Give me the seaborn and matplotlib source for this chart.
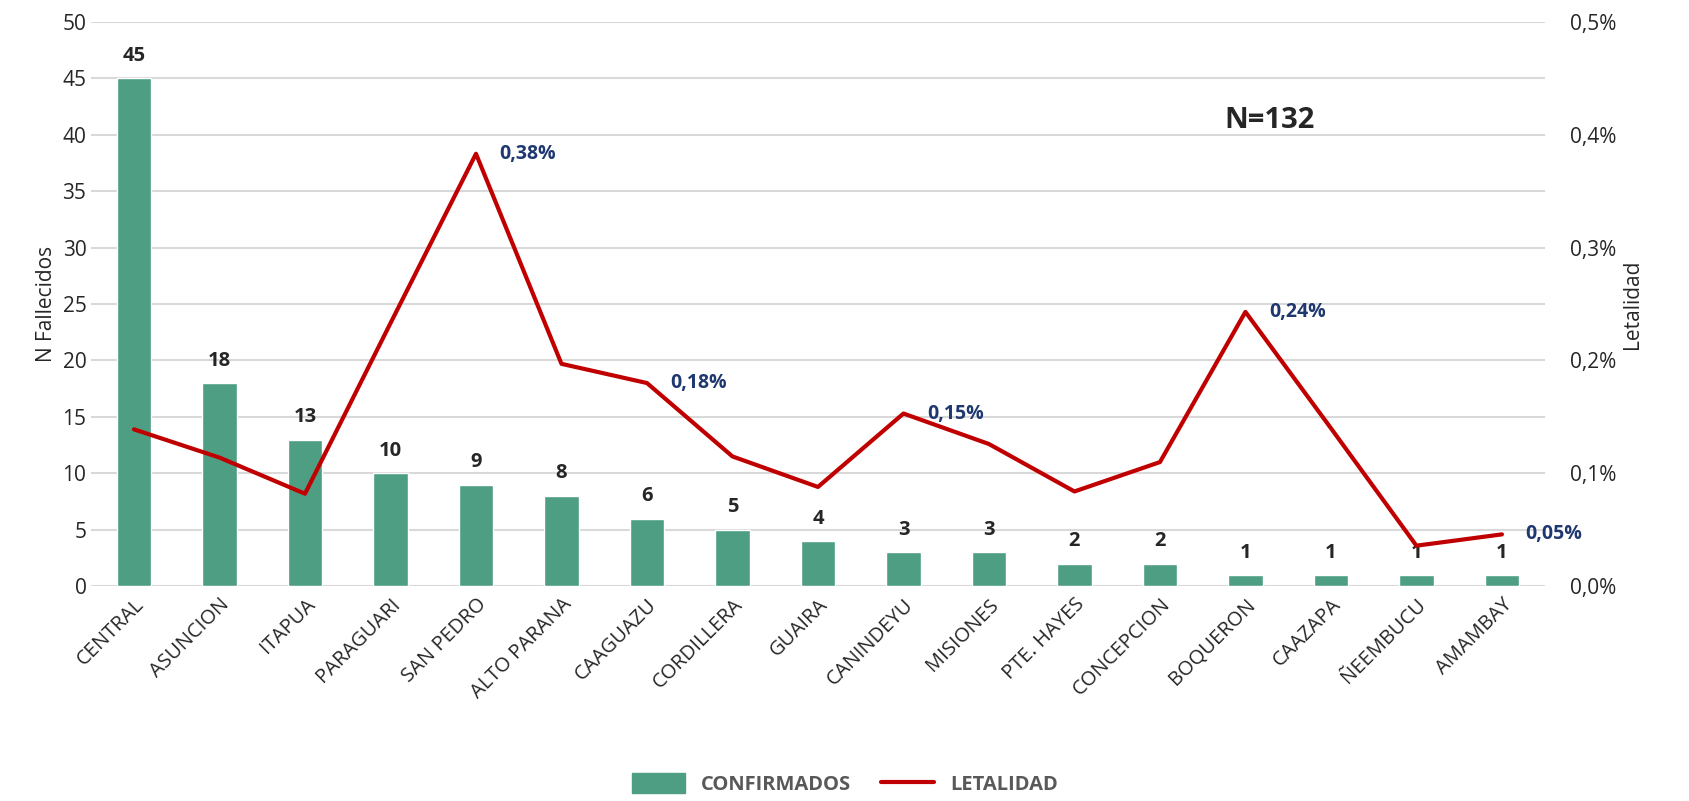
import numpy as np
import matplotlib.pyplot as plt
import seaborn as sns
from matplotlib.ticker import FuncFormatter
from matplotlib.patches import Patch
from matplotlib.lines import Line2D


# Datos por departamento
departamentos = ["CENTRAL", "ASUNCION", "ITAPUA", "PARAGUARI", "SAN PEDRO",
                 "ALTO PARANA", "CAAGUAZU", "CORDILLERA", "GUAIRA", "CANINDEYU",
                 "MISIONES", "PTE. HAYES", "CONCEPCION", "BOQUERON", "CAAZAPA",
                 "ÑEEMBUCU", "AMAMBAY"]
confirmados = [45, 18, 13, 10, 9, 8, 6, 5, 4, 3, 3, 2, 2, 1, 1, 1, 1]
letalidad = [0.139, 0.114, 0.082, 0.233, 0.383, 0.197, 0.180, 0.115, 0.088,
             0.153, 0.126, 0.084, 0.110, 0.243, 0.140, 0.036, 0.046]
etiquetas_letalidad = {"SAN PEDRO": "0,38%", "CAAGUAZU": "0,18%",
                       "CANINDEYU": "0,15%", "BOQUERON": "0,24%",
                       "AMAMBAY": "0,05%"}

VERDE = "#4E9E84"
ROJO = "#C00000"
AZUL = "#1F3870"


def graficar():
    sns.set_style("white")
    plt.rcParams['font.family'] = ['Open Sans', 'DejaVu Sans']

    fig, ax = plt.subplots(figsize=(16.9, 8.01), dpi=100)
    fig.subplots_adjust(left=0.054, right=0.914, top=0.973, bottom=0.268)

    sns.barplot(x=departamentos, y=confirmados, color=VERDE, width=0.4,
                saturation=1, ax=ax, zorder=3)
    for i, v in enumerate(confirmados):
        ax.annotate(str(v), (i, v), xytext=(0, 9), textcoords="offset points",
                    ha="center", va="bottom", fontsize=14.5, fontweight="bold")

    ax.set_ylim(0, 50)
    ax.set_yticks(range(0, 51, 5))
    ax.set_ylabel("N Fallecidos", fontsize=15)
    ax.set_xlabel("")
    ax.tick_params(axis="y", labelsize=15, length=0)
    ax.tick_params(axis="x", labelsize=14.5, length=0, pad=6)
    plt.setp(ax.get_xticklabels(), rotation=45, ha="right", rotation_mode="anchor")
    ax.grid(axis="y", color="#D9D9D9", linewidth=1.5, zorder=0)
    ax.set_axisbelow(True)
    sns.despine(ax=ax, left=True, bottom=True)

    ax2 = ax.twinx()
    x = np.arange(len(departamentos))
    sns.lineplot(x=x, y=letalidad, color=ROJO, linewidth=3, ax=ax2, zorder=4)
    for i, d in enumerate(departamentos):
        if d in etiquetas_letalidad:
            ax2.annotate(etiquetas_letalidad[d], (i, letalidad[i]), xytext=(17, 0),
                         textcoords="offset points", ha="left", va="center",
                         fontsize=14, fontweight="bold", color=AZUL)
    ax2.set_ylim(0, 0.5)
    ax2.set_yticks(np.arange(0, 0.51, 0.1))
    ax2.yaxis.set_major_formatter(FuncFormatter(lambda v, p: f"{v:.1f}%".replace(".", ",")))
    ax2.set_ylabel("Letalidad", fontsize=15)
    ax2.tick_params(axis="y", labelsize=15, length=0, pad=18)
    sns.despine(ax=ax2, left=True, bottom=True, right=True)
    ax.set_xlim(-0.5, len(departamentos) - 0.5)

    ax.text(0.811, 0.825, "N=132", transform=ax.transAxes, fontsize=21,
            fontweight="bold", ha="center", va="center")

    handles = [Patch(color=VERDE), Line2D([0], [0], color=ROJO, linewidth=3)]
    leg = fig.legend(handles, ["CONFIRMADOS", "LETALIDAD"], loc="lower center",
                     bbox_to_anchor=(0.5, -0.015), ncol=2, frameon=False,
                     prop={"size": 14.5, "weight": "bold"}, handlelength=2.6,
                     handleheight=1.1, columnspacing=1.5)
    for t in leg.get_texts():
        t.set_color("#595959")

    fig.savefig("out.png", dpi=100)


def main():
    graficar()


if __name__ == '__main__':
    main()
